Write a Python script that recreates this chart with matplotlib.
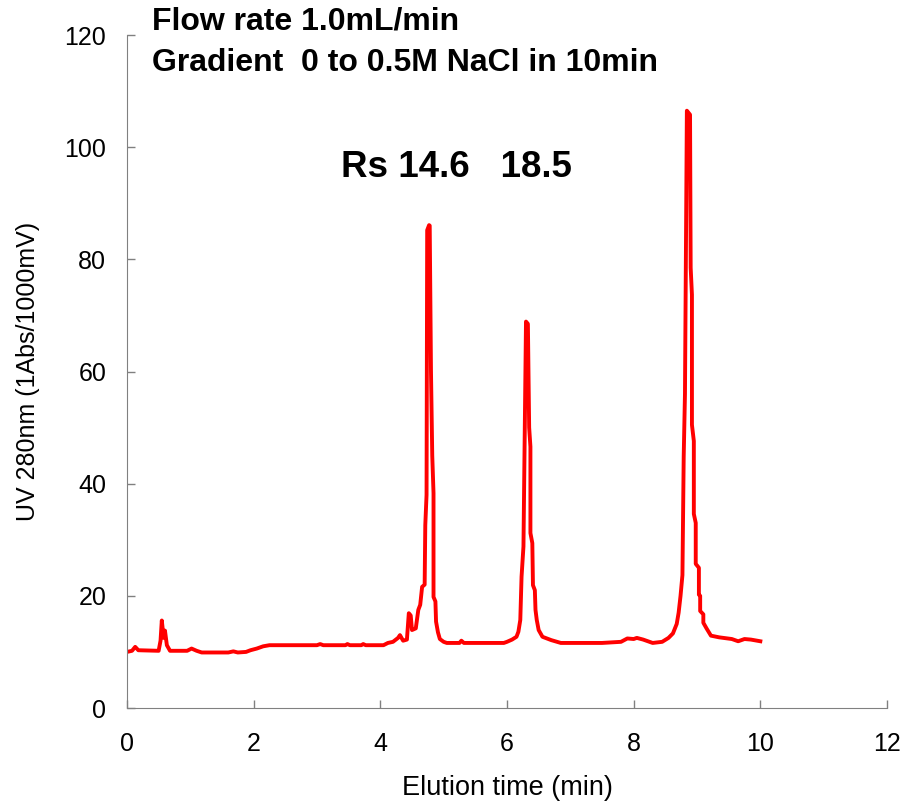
import matplotlib
matplotlib.use("Agg")
import matplotlib.pyplot as plt

plt.rcParams['font.family'] = ['Liberation Sans', 'DejaVu Sans']

# elution profile (min, mV)
time_min = [0, 0.08, 0.13, 0.18, 0.5, 0.53, 0.55, 0.58, 0.6, 0.63, 0.68, 0.95, 1.02, 1.1, 1.18,
            1.6, 1.68, 1.75, 1.88, 1.95, 2.05, 2.15, 2.25, 3.0, 3.05, 3.1, 3.45, 3.48, 3.52,
            3.7, 3.73, 3.77, 4.05, 4.12, 4.2, 4.28, 4.31, 4.36, 4.42, 4.45, 4.48, 4.5, 4.56,
            4.6, 4.63, 4.66, 4.7, 4.71, 4.73, 4.74, 4.77, 4.78, 4.8, 4.82, 4.84, 4.84, 4.87,
            4.88, 4.91, 4.94, 5.0, 5.05, 5.25, 5.28, 5.32, 5.95, 6.0, 6.08, 6.15, 6.18, 6.21,
            6.23, 6.26, 6.3, 6.33, 6.35, 6.37, 6.37, 6.4, 6.41, 6.44, 6.45, 6.47, 6.5, 6.56,
            6.7, 6.85, 7.5, 7.8, 7.9, 8.0, 8.05, 8.15, 8.3, 8.45, 8.55, 8.62, 8.68, 8.71, 8.74,
            8.77, 8.79, 8.81, 8.84, 8.89, 8.9, 8.92, 8.92, 8.95, 8.95, 8.98, 8.98, 9.03, 9.03,
            9.05, 9.05, 9.1, 9.1, 9.15, 9.22, 9.35, 9.55, 9.65, 9.75, 9.85, 10.0]
uv_mv = [10.0, 10.2, 10.9, 10.3, 10.2, 12.0, 15.6, 12.5, 13.8, 11.2, 10.2, 10.2, 10.6, 10.2, 9.9,
         9.9, 10.1, 9.9, 10.0, 10.3, 10.6, 11.0, 11.2, 11.2, 11.4, 11.2, 11.2, 11.4, 11.2,
         11.2, 11.4, 11.2, 11.2, 11.6, 11.8, 12.5, 13.0, 12.0, 12.2, 16.9, 16.5, 13.9, 14.2,
         17.5, 18.4, 21.6, 22.0, 32.6, 38.0, 85.2, 86.1, 86.0, 60.0, 45.0, 38.3, 19.8, 19.0,
         15.4, 13.5, 12.3, 11.8, 11.6, 11.6, 12.0, 11.6, 11.6, 11.8, 12.2, 12.7, 13.6, 15.7,
         23.4, 28.8, 68.9, 68.5, 50.0, 46.6, 31.2, 29.4, 21.9, 21.0, 17.5, 15.7, 13.9, 12.7,
         12.1, 11.6, 11.6, 11.8, 12.4, 12.3, 12.5, 12.2, 11.6, 11.8, 12.5, 13.3, 15.0, 17.0, 20.0,
         23.7, 44.8, 56.0, 106.5, 105.8, 78.5, 73.7, 50.5, 47.6, 34.6, 33.0, 25.7, 25.0, 20.2,
         20.0, 17.3, 16.7, 15.2, 14.2, 12.9, 12.6, 12.3, 11.9, 12.3, 12.2, 11.9]

x_ticks = [0, 2, 4, 6, 8, 10, 12]
y_ticks = [0, 20, 40, 60, 80, 100, 120]

fig = plt.figure(figsize=(9.03, 8.01), dpi=100)
ax = fig.add_axes([0.1406, 0.1161, 0.8417, 0.8402])

ax.plot(time_min, uv_mv, color='#ff0000', lw=2.8, solid_joinstyle='round')

ax.set_xlim(0, 12)
ax.set_ylim(0, 120)
ax.set_xticks(x_ticks)
ax.set_yticks(y_ticks)
ax.tick_params(direction='in', length=6, width=1, color='#808080', labelsize=18)
ax.tick_params(axis='x', pad=17)
ax.tick_params(axis='y', pad=15)
for side in ('top', 'right'):
    ax.spines[side].set_visible(False)
for side in ('left', 'bottom'):
    ax.spines[side].set_color('#808080')

ax.set_xlabel('Elution time (min)', fontsize=19.5)
ax.xaxis.set_label_coords(0.5, -0.1)
ax.set_ylabel('UV 280nm (1Abs/1000mV)', fontsize=18)
ax.yaxis.set_label_coords(-0.114, 0.5)

ax.text(0.4, 120.9, 'Flow rate 1.0mL/min', fontsize=23, fontweight='bold', va='baseline')
ax.text(0.4, 113.6, 'Gradient  0 to 0.5M NaCl in 10min', fontsize=23, fontweight='bold', va='baseline')
ax.text(3.38, 94.7, 'Rs 14.6   18.5', fontsize=26.5, fontweight='bold', va='baseline')

fig.savefig('out.png', dpi=100)
